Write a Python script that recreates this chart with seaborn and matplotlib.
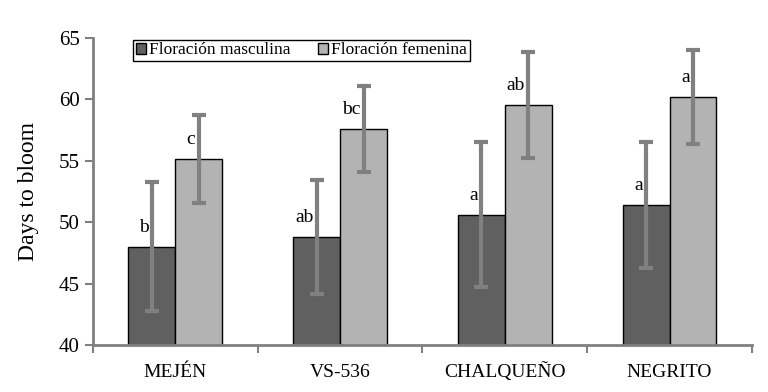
import pandas as pd
import matplotlib.pyplot as plt
import seaborn as sns

# values
varieties = ['MEJÉN', 'VS-536', 'CHALQUEÑO', 'NEGRITO']
series = ['Floración masculina', 'Floración femenina']
masc_mean = [48.0, 48.8, 50.6, 51.4]
masc_err = [5.25, 4.65, 5.9, 5.1]
fem_mean = [55.15, 57.6, 59.55, 60.2]
fem_err = [3.55, 3.5, 4.3, 3.8]
masc_letters = ['b', 'ab', 'a', 'a']
fem_letters = ['c', 'bc', 'ab', 'a']

df = pd.DataFrame({
    'variety': varieties * 2,
    'type': [series[0]] * 4 + [series[1]] * 4,
    'days': masc_mean + fem_mean,
})

sns.set_theme(style="white")
plt.rcParams['font.family'] = ['Liberation Serif', 'DejaVu Serif']
plt.rcParams['text.color'] = 'black'
plt.rcParams['axes.labelcolor'] = 'black'
plt.rcParams['xtick.color'] = 'black'
plt.rcParams['ytick.color'] = 'black'

fig = plt.figure(figsize=(7.68, 3.92), dpi=100)
ax = fig.add_axes([0.121, 0.12, 0.858, 0.783])

sns.barplot(data=df, x='variety', y='days', hue='type', order=varieties,
            hue_order=series, palette=['#606060', '#b3b3b3'], width=0.57,
            edgecolor='black', linewidth=1, errorbar=None, ax=ax)

grey = '#808080'
for cont, errs, means, letters in zip(ax.containers, [masc_err, fem_err],
                                      [masc_mean, fem_mean], [masc_letters, fem_letters]):
    xs = [b.get_x() + b.get_width() / 2 for b in cont]
    ax.errorbar(xs, means, yerr=errs, fmt='none', ecolor=grey, elinewidth=3,
                capsize=5, capthick=3, zorder=5)
    for x, m, t in zip(xs, means, letters):
        ax.text(x - 0.02, m + 1.6, t, ha='right', va='center', fontsize=14)

ax.set_ylim(40, 65)
ax.set_yticks([40, 45, 50, 55, 60, 65])
ax.set_xlim(-0.5, 3.5)
ax.set_xticks([-0.5, 0.5, 1.5, 2.5, 3.5], minor=True)
ax.tick_params(axis='x', which='major', length=0, labelsize=14, pad=23)
for lab in ax.get_xticklabels():
    lab.set_verticalalignment('baseline')
ax.tick_params(axis='x', which='minor', length=6, width=1.5, color=grey, direction='out', bottom=True)
ax.tick_params(axis='y', length=6, width=1.5, color=grey, direction='out', left=True, labelsize=15)
ax.set_xlabel('')
ax.set_ylabel('Days to bloom', fontsize=17, labelpad=14)

sns.despine(ax=ax)
for s in ['left', 'bottom']:
    ax.spines[s].set_color(grey)
    ax.spines[s].set_linewidth(2)

leg = ax.legend(loc='upper left', bbox_to_anchor=(0.061, 0.995), ncol=2,
                fontsize=12.5, frameon=True, fancybox=False, edgecolor='black',
                handlelength=0.6, handleheight=0.6, handletextpad=0.15,
                columnspacing=1.6, borderpad=0.15, borderaxespad=0)
leg.get_frame().set_linewidth(1)
leg.get_frame().set_alpha(1)

plt.savefig('out.png', dpi=100)
